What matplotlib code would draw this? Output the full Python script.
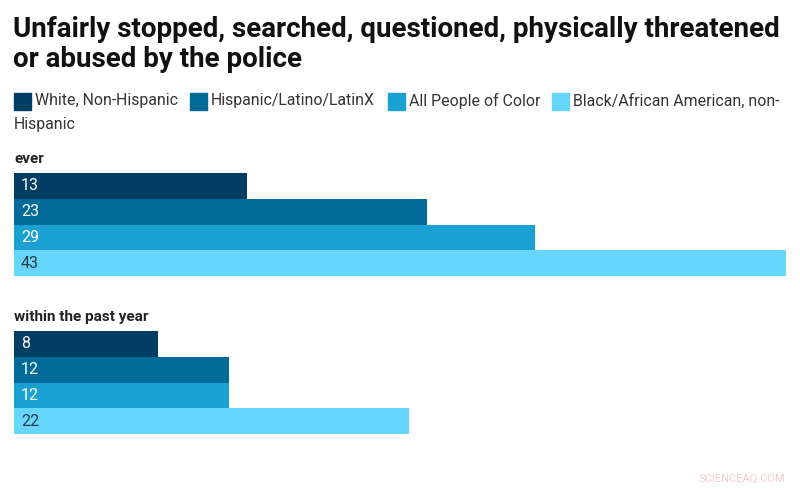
import matplotlib.pyplot as plt

plt.rcParams['font.family'] = ['Roboto', 'DejaVu Sans']

groups = ["ever", "within the past year"]
series = ["White, Non-Hispanic", "Hispanic/Latino/LatinX",
          "All People of Color", "Black/African American, non-\nHispanic"]
values = [
    [13, 23, 29, 43],   # ever
    [8, 12, 12, 22],    # within the past year
]
colors = ["#023d63", "#006b98", "#1aa1d2", "#66d6fc"]
label_colors = ["white", "white", "white", "#2a3a44"]

W, H = 800, 490
fig = plt.figure(figsize=(8, 4.9), dpi=100)

# axes spanning bar area horizontally, full height in pixel units vertically
x0, x1 = 14, 786
ax = fig.add_axes([x0 / W, 0, (x1 - x0) / W, 1])
ax.set_xlim(0, 43)
ax.set_ylim(H, 0)
ax.axis("off")

group_top = [173, 331]
bar_h = 25.8
for g, name in enumerate(groups):
    ax.text(0, group_top[g] - 7, name, fontsize=11, fontweight="bold",
            color="#222222", va="bottom", ha="left")
    for i, v in enumerate(values[g]):
        yc = group_top[g] + bar_h * (i + 0.5)
        ax.barh(yc, v, height=bar_h, left=0, color=colors[i], linewidth=0)
        ax.annotate(str(v), (0, yc), xytext=(5, 0), textcoords="offset points",
                    color=label_colors[i], fontsize=11.5, va="center", ha="left")

# title
fig.text(13 / W, 1 - 16 / H,
         "Unfairly stopped, searched, questioned, physically threatened\nor abused by the police",
         fontsize=20, fontweight="bold", color="#111111", va="top", ha="left",
         linespacing=1.15)

# legend
sq_x = [14, 190, 388, 552]
for i, name in enumerate(series):
    fig.patches.append(plt.Rectangle((sq_x[i] / W, 1 - 110 / H), 17 / W, 17 / H,
                                     transform=fig.transFigure, color=colors[i]))
for i, name in enumerate(series[:3]):
    fig.text((sq_x[i] + 21) / W, 1 - 101 / H, name, fontsize=11.4,
             color="#333333", va="center", ha="left")
fig.text((sq_x[3] + 21) / W, 1 - 101 / H, "Black/African American, non-",
         fontsize=11.4, color="#333333", va="center", ha="left")
fig.text(14 / W, 1 - 124 / H, "Hispanic", fontsize=11.4,
         color="#333333", va="center", ha="left")

# watermark
fig.text(785 / W, 1 - 479 / H, "SCIENCEAQ.COM", fontsize=8,
         color="#f2cccc", va="center", ha="right")

fig.savefig("out.png", dpi=100)
